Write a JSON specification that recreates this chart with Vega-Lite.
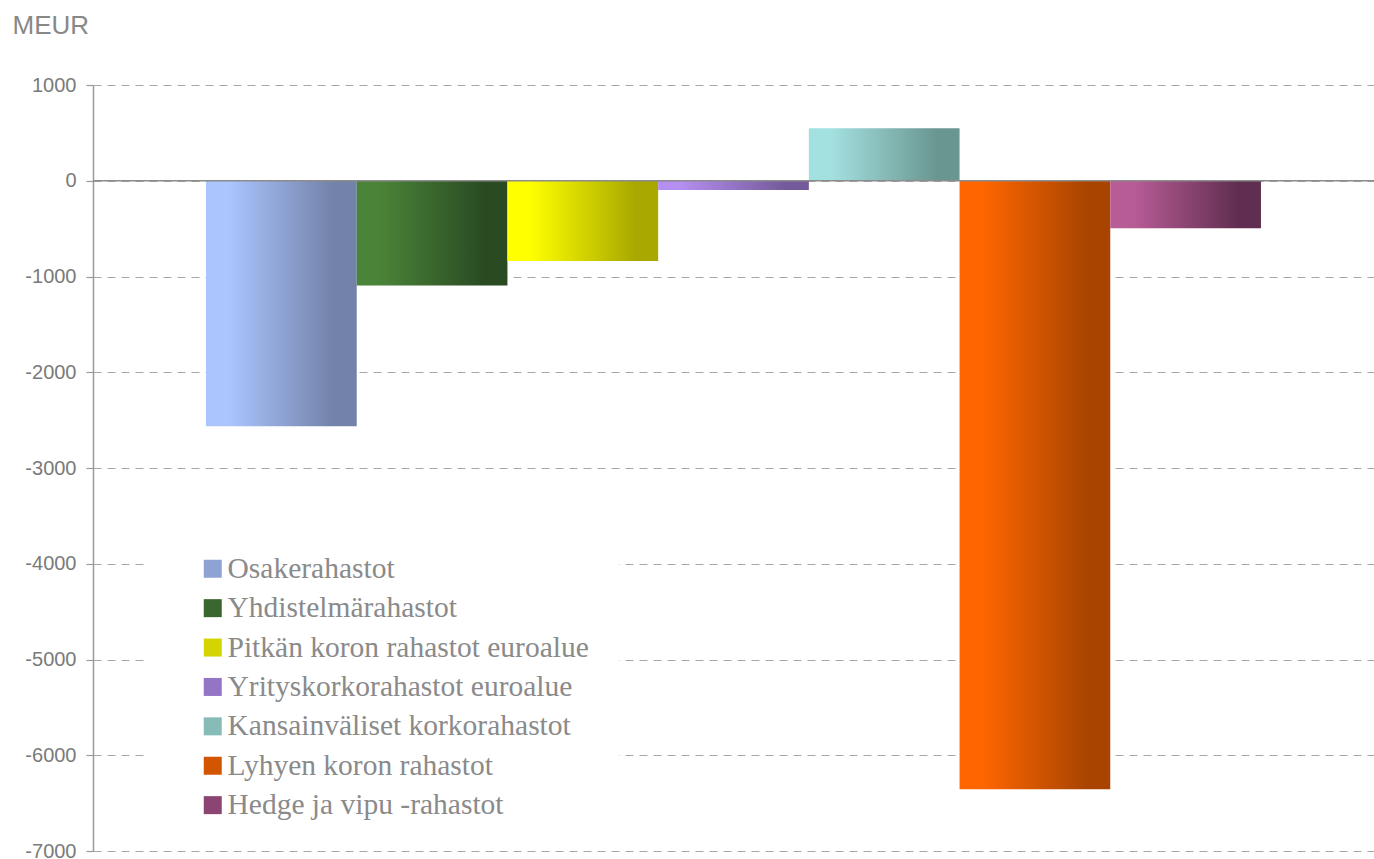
{
  "$schema": "https://vega.github.io/schema/vega-lite/v6.json",
  "width": 1281,
  "height": 766,
  "autosize": "none",
  "padding": {"left": 93, "top": 85, "right": 0, "bottom": 8},
  "background": "white",
  "config": {"view": {"stroke": null}},
  "data": {
    "values": [
      {"rahasto": "Osakerahastot", "arvo": -2563},
      {"rahasto": "Yhdistelmärahastot", "arvo": -1093},
      {"rahasto": "Pitkän koron rahastot euroalue", "arvo": -839},
      {"rahasto": "Yrityskorkorahastot euroalue", "arvo": -97},
      {"rahasto": "Kansainväliset korkorahastot", "arvo": 547},
      {"rahasto": "Lyhyen koron rahastot", "arvo": -6356},
      {"rahasto": "Hedge ja vipu -rahastot", "arvo": -497}
    ]
  },
  "encoding": {
    "x": {
      "field": "rahasto",
      "type": "nominal",
      "scale": {
        "domain": ["Osakerahastot", "Yhdistelmärahastot", "Pitkän koron rahastot euroalue", "Yrityskorkorahastot euroalue", "Kansainväliset korkorahastot", "Lyhyen koron rahastot", "Hedge ja vipu -rahastot"],
        "paddingInner": 0,
        "paddingOuter": 0.75
      },
      "axis": null
    },
    "y": {
      "field": "arvo",
      "type": "quantitative",
      "scale": {"domain": [-7000, 1000], "nice": false},
      "axis": {
        "values": [1000, 0, -1000, -2000, -3000, -4000, -5000, -6000, -7000],
        "labelExpr": "'' + datum.value",
        "grid": true,
        "gridColor": "#a6a6a6",
        "gridDash": [8, 6],
        "gridWidth": 1,
        "domainColor": "#9a9a9a",
        "domainWidth": 1.5,
        "tickColor": "#9a9a9a",
        "tickSize": 7,
        "tickWidth": 1.2,
        "labelFont": "Liberation Sans",
        "labelFontSize": 20,
        "labelColor": "#7a7a7a",
        "labelPadding": 10,
        "title": "MEUR",
        "titleFont": "Liberation Sans",
        "titleFontSize": 26,
        "titleFontWeight": "normal",
        "titleColor": "#888888",
        "titleAngle": 0,
        "titleAlign": "left",
        "titleBaseline": "middle",
        "titleX": -81,
        "titleY": -60
      }
    }
  },
  "layer": [
    {
      "transform": [{"filter": "datum.rahasto === 'Osakerahastot'"}],
      "mark": {"type": "bar", "color": {"gradient": "linear", "x1": 0, "y1": 0, "x2": 1, "y2": 0, "stops": [{"offset": 0, "color": "#abc5ff"}, {"offset": 0.15, "color": "#abc5ff"}, {"offset": 0.85, "color": "#7282a8"}, {"offset": 1, "color": "#7282a8"}]}}
    },
    {
      "transform": [{"filter": "datum.rahasto === 'Yhdistelmärahastot'"}],
      "mark": {"type": "bar", "color": {"gradient": "linear", "x1": 0, "y1": 0, "x2": 1, "y2": 0, "stops": [{"offset": 0, "color": "#4a8438"}, {"offset": 0.15, "color": "#4a8438"}, {"offset": 0.85, "color": "#2a4a22"}, {"offset": 1, "color": "#2a4a22"}]}}
    },
    {
      "transform": [{"filter": "datum.rahasto === 'Pitkän koron rahastot euroalue'"}],
      "mark": {"type": "bar", "color": {"gradient": "linear", "x1": 0, "y1": 0, "x2": 1, "y2": 0, "stops": [{"offset": 0, "color": "#ffff00"}, {"offset": 0.15, "color": "#ffff00"}, {"offset": 0.85, "color": "#a8a800"}, {"offset": 1, "color": "#a8a800"}]}}
    },
    {
      "transform": [{"filter": "datum.rahasto === 'Yrityskorkorahastot euroalue'"}],
      "mark": {"type": "bar", "color": {"gradient": "linear", "x1": 0, "y1": 0, "x2": 1, "y2": 0, "stops": [{"offset": 0, "color": "#b48ef0"}, {"offset": 0.15, "color": "#b48ef0"}, {"offset": 0.85, "color": "#745a9a"}, {"offset": 1, "color": "#745a9a"}]}}
    },
    {
      "transform": [{"filter": "datum.rahasto === 'Kansainväliset korkorahastot'"}],
      "mark": {"type": "bar", "color": {"gradient": "linear", "x1": 0, "y1": 0, "x2": 1, "y2": 0, "stops": [{"offset": 0, "color": "#a3e0e0"}, {"offset": 0.15, "color": "#a3e0e0"}, {"offset": 0.85, "color": "#6a9690"}, {"offset": 1, "color": "#6a9690"}]}}
    },
    {
      "transform": [{"filter": "datum.rahasto === 'Lyhyen koron rahastot'"}],
      "mark": {"type": "bar", "color": {"gradient": "linear", "x1": 0, "y1": 0, "x2": 1, "y2": 0, "stops": [{"offset": 0, "color": "#ff6600"}, {"offset": 0.15, "color": "#ff6600"}, {"offset": 0.85, "color": "#a84400"}, {"offset": 1, "color": "#a84400"}]}}
    },
    {
      "transform": [{"filter": "datum.rahasto === 'Hedge ja vipu -rahastot'"}],
      "mark": {"type": "bar", "color": {"gradient": "linear", "x1": 0, "y1": 0, "x2": 1, "y2": 0, "stops": [{"offset": 0, "color": "#b85c96"}, {"offset": 0.15, "color": "#b85c96"}, {"offset": 0.85, "color": "#602e50"}, {"offset": 1, "color": "#602e50"}]}}
    },
    {
      "transform": [{"filter": "false"}],
      "mark": {"type": "bar"},
      "encoding": {
        "color": {
          "field": "rahasto",
          "type": "nominal",
          "scale": {
            "domain": ["Osakerahastot", "Yhdistelmärahastot", "Pitkän koron rahastot euroalue", "Yrityskorkorahastot euroalue", "Kansainväliset korkorahastot", "Lyhyen koron rahastot", "Hedge ja vipu -rahastot"],
            "range": ["#8ea3d4", "#3a672d", "#d4d400", "#9474c5", "#87bbb8", "#d45500", "#8c4573"]
          },
          "legend": {
            "title": null,
            "orient": "none",
            "legendX": 56,
            "legendY": 439,
            "padding": 30,
            "fillColor": "white",
            "strokeColor": null,
            "symbolType": "square",
            "symbolSize": 324,
            "symbolStrokeWidth": 0,
            "symbolOffset": 19,
            "labelOffset": 0,
            "labelFont": "Liberation Serif",
            "labelFontSize": 29.5,
            "labelColor": "#8a8a8a",
            "labelLimit": 600,
            "rowPadding": 8.4
          }
        }
      }
    },
    {
      "data": {"values": [{"v": 0}]},
      "mark": {"type": "rule", "color": "#8c8c8c", "strokeWidth": 1.5},
      "encoding": {"x": {"value": 0}, "x2": {"value": 1281}, "y": {"field": "v", "type": "quantitative"}}
    }
  ]
}
